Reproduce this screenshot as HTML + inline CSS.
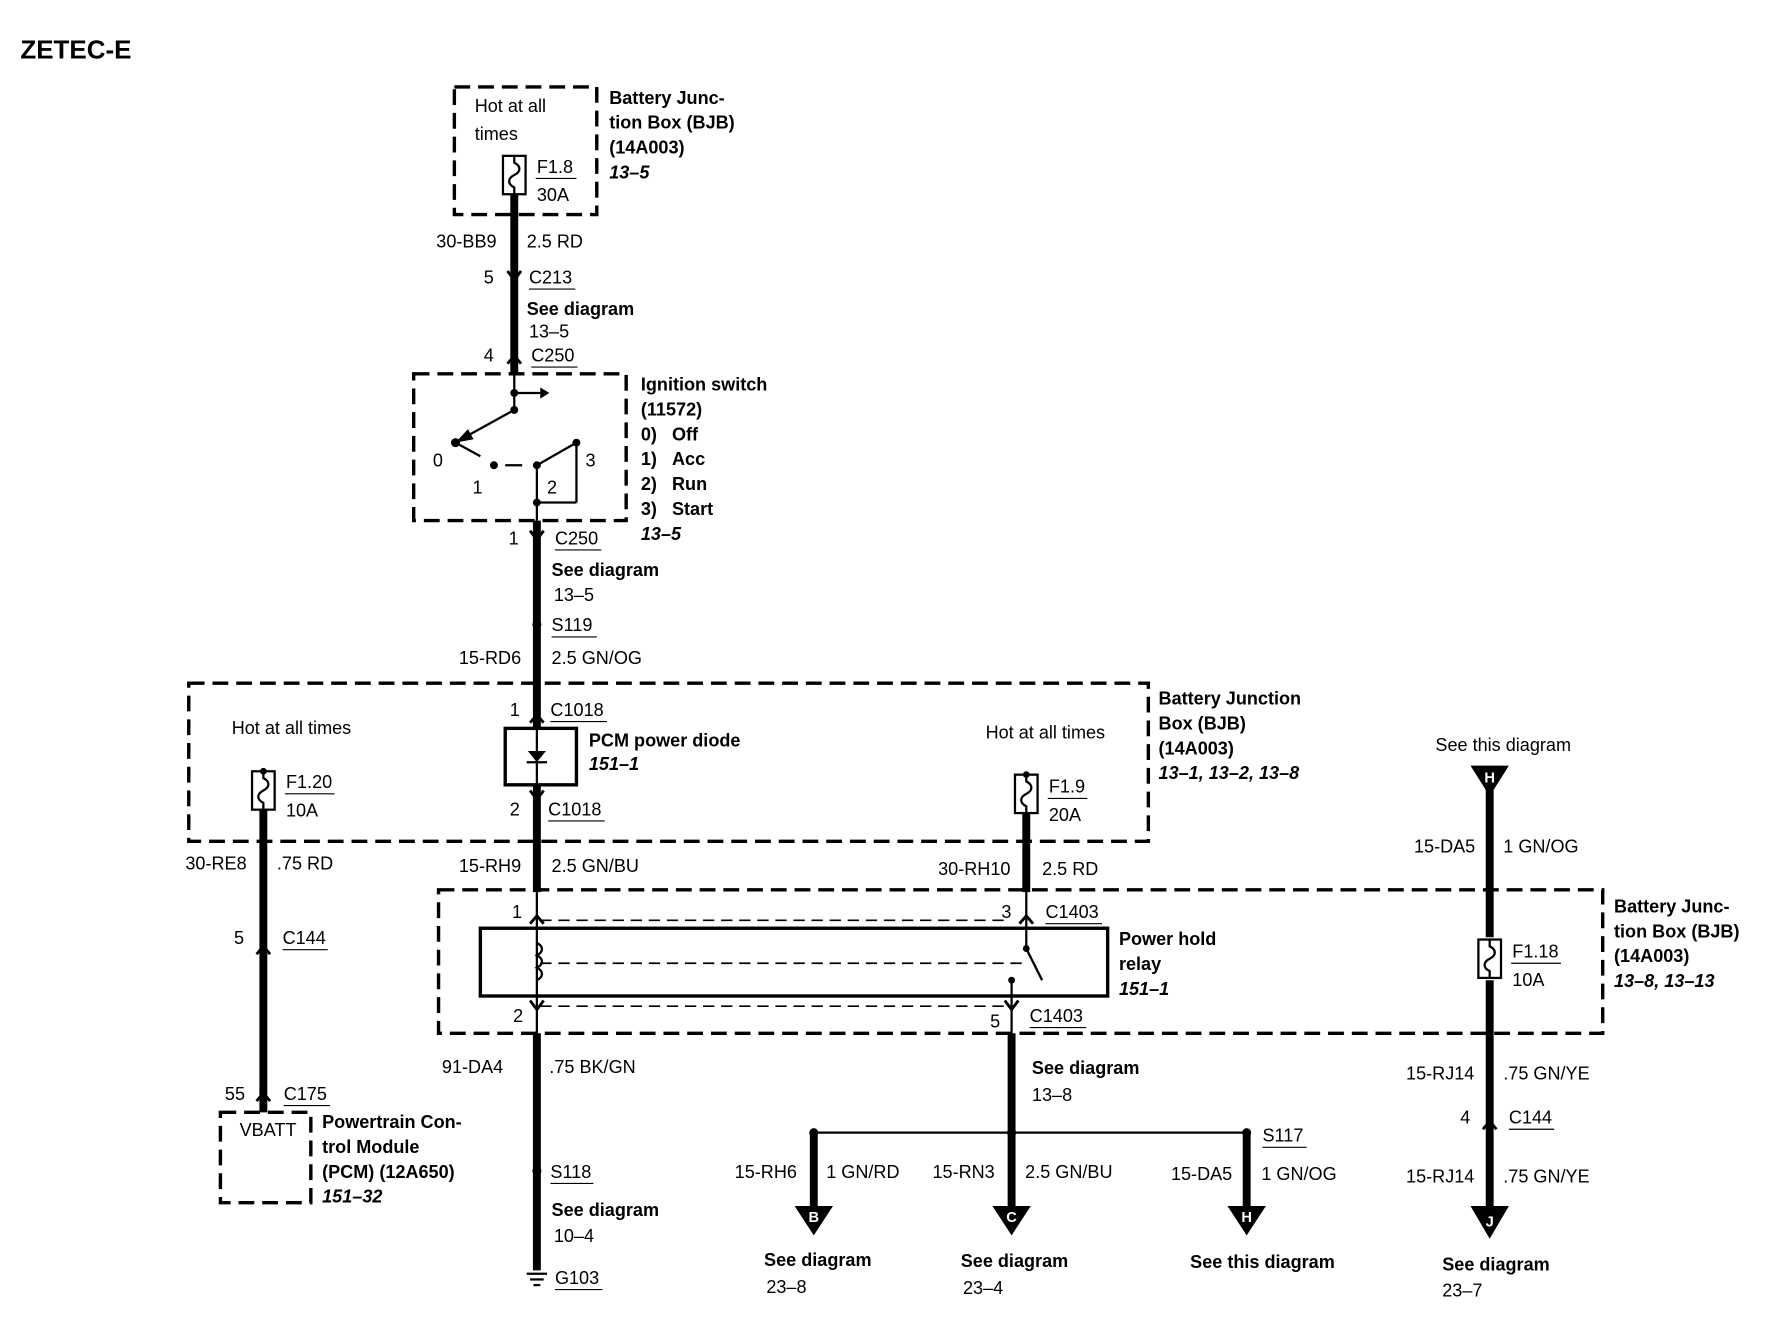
<!DOCTYPE html>
<html><head><meta charset="utf-8"><style>
html,body{margin:0;padding:0;background:#fff}
svg{display:block}
text{font-family:"Liberation Sans",Arial,sans-serif;font-size:16px;fill:#000}
.b{font-weight:bold}
.i{font-weight:bold;font-style:italic}
</style></head><body>
<svg width="1770" height="1328" viewBox="0 0 1566 1176" preserveAspectRatio="none" xmlns="http://www.w3.org/2000/svg">
<defs>
<g id="fuse"><rect x="-10" y="-17" width="20" height="34" fill="#fff" stroke="#000" stroke-width="2"/><path d="M0,-17 v6 c6,3 6,8 0,11 c-6,3 -6,8 0,11 v6" fill="none" stroke="#000" stroke-width="2"/></g>
</defs>
<g stroke="#000" fill="none">
<g stroke-width="3" stroke-dasharray="14,7">
<rect x="402" y="77" width="126" height="113"/>
<rect x="366" y="331" width="188" height="130"/>
<rect x="167" y="605" width="849" height="140"/>
<rect x="388" y="788" width="1030" height="127"/>
<rect x="195" y="985" width="80" height="80"/>
</g>
<g stroke-width="7">
<line x1="455" y1="172" x2="455" y2="331"/>
<line x1="475" y1="461" x2="475" y2="645"/>
<line x1="475" y1="695" x2="475" y2="790"/>
<line x1="475" y1="915" x2="475" y2="1125"/>
<line x1="233" y1="717" x2="233" y2="985"/>
<line x1="908" y1="720" x2="908" y2="790"/>
<line x1="895" y1="915" x2="895" y2="1003"/>
<line x1="720" y1="1003" x2="720" y2="1075"/>
<line x1="895" y1="1003" x2="895" y2="1075"/>
<line x1="1103" y1="1003" x2="1103" y2="1075"/>
<line x1="1318" y1="695" x2="1318" y2="830"/>
<line x1="1318" y1="868" x2="1318" y2="1075"/>
</g>
<g stroke-width="2">
<line x1="720" y1="1003" x2="1103" y2="1003"/>
<line x1="455" y1="331" x2="455" y2="363"/>
<line x1="455" y1="348" x2="478" y2="348"/>
<line x1="455" y1="363" x2="408" y2="389"/>
<line x1="403" y1="392" x2="425" y2="404"/>
<line x1="447" y1="412" x2="462" y2="412"/>
<line x1="475" y1="412" x2="510" y2="392"/>
<line x1="510" y1="392" x2="510" y2="445"/><line x1="475" y1="445" x2="510" y2="445"/>
<line x1="475" y1="412" x2="475" y2="461"/>
<rect x="425" y="822" width="555" height="60" stroke-width="3"/>
<line x1="475" y1="790" x2="475" y2="915"/>
<line x1="908" y1="790" x2="908" y2="840"/>
<line x1="908" y1="840" x2="922" y2="868"/>
<line x1="895" y1="868" x2="895" y2="915"/>
<path d="M475,835 c6,3 6,8 0,11 c6,3 6,8 0,11 c6,3 6,8 0,11" />
</g>
<g stroke-width="1.5" stroke-dasharray="10,6">
<line x1="478" y1="815" x2="890" y2="815"/>
<line x1="478" y1="853" x2="905" y2="853"/>
<line x1="478" y1="891" x2="895" y2="891"/>
</g>
<rect x="447" y="645" width="63" height="50" stroke-width="3" fill="#fff"/>
<line x1="475" y1="645" x2="475" y2="695" stroke-width="2"/>
<line x1="466" y1="675" x2="484" y2="675" stroke-width="2"/>
</g>
<polygon points="467,665 483,665 475,675" fill="#000"/>
<polygon points="478,343 478,353 486,348" fill="#000"/>
<polygon points="403,392 414,380 419,389" fill="#000"/>
<g stroke="#000" stroke-width="2.5" fill="none">
<path d="M449,240 l6,8 l6,-8"/><path d="M449,322 l6,-7 l6,7"/>
<path d="M469,470 l6,8 l6,-8"/><path d="M469,640 l6,-7 l6,7"/>
<path d="M469,700 l6,8 l6,-8"/><path d="M469,818 l6,-7 l6,7"/>
<path d="M469,886 l6,8 l6,-8"/><path d="M902,818 l6,-7 l6,7"/>
<path d="M889,886 l6,8 l6,-8"/><path d="M227,845 l6,-7 l6,7"/>
<path d="M227,975 l6,-7 l6,7"/><path d="M1312,1000 l6,-7 l6,7"/>
</g>
<use href="#fuse" x="455" y="155"/>
<use href="#fuse" x="233" y="700"/>
<use href="#fuse" x="908" y="703"/>
<use href="#fuse" x="1318" y="849"/>
<g fill="#000">
<circle cx="455" cy="348" r="3.5"/><circle cx="455" cy="363" r="3.5"/><circle cx="403" cy="392" r="4"/>
<circle cx="437" cy="412" r="3.5"/><circle cx="475" cy="412" r="3.5"/><circle cx="510" cy="392" r="3.5"/><circle cx="475" cy="445" r="3.5"/>
<circle cx="475" cy="553" r="4"/><circle cx="475" cy="1037" r="4"/>
<circle cx="720" cy="1003" r="4"/><circle cx="895" cy="1003" r="4"/><circle cx="1103" cy="1003" r="4"/>
<circle cx="233" cy="683" r="3"/><circle cx="908" cy="686" r="3"/><circle cx="908" cy="840" r="3"/><circle cx="895" cy="868" r="3"/>
<polygon points="703,1068 737,1068 720,1094"/>
<polygon points="878,1068 912,1068 895,1094"/>
<polygon points="1086,1068 1120,1068 1103,1094"/>
<polygon points="1301,1068 1335,1068 1318,1097"/>
<polygon points="1301,678 1335,678 1318,705"/>
</g>
<g stroke="#000" stroke-width="2"><line x1="466" y1="1128" x2="484" y2="1128"/><line x1="469" y1="1133" x2="481" y2="1133"/><line x1="472" y1="1138" x2="478" y2="1138"/></g>
<g text-anchor="middle">
<text x="720" y="1082" class="b" style="fill:#fff;font-size:13px">B</text>
<text x="895" y="1082" class="b" style="fill:#fff;font-size:13px">C</text>
<text x="1103" y="1082" class="b" style="fill:#fff;font-size:13px">H</text>
<text x="1318" y="1086" class="b" style="fill:#fff;font-size:13px">J</text>
<text x="1318" y="693" class="b" style="fill:#fff;font-size:13px">H</text>
</g>
<text x="18" y="52" class="b" style="font-size:23px">ZETEC-E</text>
<text x="420" y="99">Hot at all</text><text x="420" y="124">times</text>
<text x="475" y="153">F1.8</text><text x="475" y="178">30A</text>
<line x1="474" y1="158" x2="510" y2="158" stroke="#000"/>
<text x="539" y="92" class="b">Battery Junc-</text><text x="539" y="114" class="b">tion Box (BJB)</text><text x="539" y="136" class="b">(14A003)</text><text x="539" y="158" class="i">13–5</text>
<text x="386" y="219">30-BB9</text><text x="466" y="219">2.5 RD</text>
<text x="428" y="251">5</text><text x="468" y="251">C213</text><text x="466" y="279" class="b">See diagram</text><text x="468" y="299">13–5</text>
<text x="428" y="320">4</text><text x="470" y="320">C250</text>
<text x="567" y="346" class="b">Ignition switch</text><text x="567" y="368" class="b">(11572)</text>
<text x="567" y="390" class="b">0)&#160;&#160;&#160;Off</text><text x="567" y="412" class="b">1)&#160;&#160;&#160;Acc</text><text x="567" y="434" class="b">2)&#160;&#160;&#160;Run</text><text x="567" y="456" class="b">3)&#160;&#160;&#160;Start</text><text x="567" y="478" class="i">13–5</text>
<text x="383" y="413">0</text><text x="418" y="437">1</text><text x="484" y="437">2</text><text x="518" y="413">3</text>
<text x="450" y="482">1</text><text x="491" y="482">C250</text><text x="488" y="510" class="b">See diagram</text><text x="490" y="532">13–5</text>
<text x="488" y="559">S119</text>
<text x="406" y="588">15-RD6</text><text x="488" y="588">2.5 GN/OG</text>
<text x="205" y="650">Hot at all times</text>
<text x="451" y="634">1</text><text x="487" y="634">C1018</text>
<text x="521" y="661" class="b">PCM power diode</text><text x="521" y="682" class="i">151–1</text>
<text x="451" y="722">2</text><text x="485" y="722">C1018</text>
<text x="253" y="698">F1.20</text><text x="253" y="723">10A</text>
<text x="872" y="654">Hot at all times</text>
<text x="928" y="702">F1.9</text><text x="928" y="727">20A</text>
<text x="1025" y="624" class="b">Battery Junction</text><text x="1025" y="646" class="b">Box (BJB)</text><text x="1025" y="668" class="b">(14A003)</text><text x="1025" y="690" class="i">13–1, 13–2, 13–8</text>
<text x="1270" y="665">See this diagram</text>
<text x="1251" y="755">15-DA5</text><text x="1330" y="755">1 GN/OG</text>
<text x="164" y="770">30-RE8</text><text x="245" y="770">.75 RD</text>
<text x="406" y="772">15-RH9</text><text x="488" y="772">2.5 GN/BU</text>
<text x="830" y="775">30-RH10</text><text x="922" y="775">2.5 RD</text>
<text x="453" y="813">1</text><text x="886" y="813">3</text><text x="925" y="813">C1403</text>
<text x="990" y="837" class="b">Power hold</text><text x="990" y="859" class="b">relay</text><text x="990" y="881" class="i">151–1</text>
<text x="1428" y="808" class="b">Battery Junc-</text><text x="1428" y="830" class="b">tion Box (BJB)</text><text x="1428" y="852" class="b">(14A003)</text><text x="1428" y="874" class="i">13–8, 13–13</text>
<text x="1338" y="848">F1.18</text><text x="1338" y="873">10A</text>
<text x="207" y="836">5</text><text x="250" y="836">C144</text>
<text x="454" y="905">2</text><text x="876" y="910">5</text><text x="911" y="905">C1403</text>
<text x="391" y="950">91-DA4</text><text x="486" y="950">.75 BK/GN</text>
<text x="913" y="951" class="b">See diagram</text><text x="913" y="975">13–8</text>
<text x="1244" y="956">15-RJ14</text><text x="1330" y="956">.75 GN/YE</text>
<text x="199" y="974">55</text><text x="251" y="974">C175</text>
<text x="212" y="1006">VBATT</text>
<text x="285" y="999" class="b">Powertrain Con-</text><text x="285" y="1021" class="b">trol Module</text><text x="285" y="1043" class="b">(PCM) (12A650)</text><text x="285" y="1065" class="i">151–32</text>
<text x="1292" y="995">4</text><text x="1335" y="995">C144</text>
<text x="1117" y="1011">S117</text>
<text x="487" y="1043">S118</text>
<text x="650" y="1043">15-RH6</text><text x="731" y="1043">1 GN/RD</text>
<text x="825" y="1043">15-RN3</text><text x="907" y="1043">2.5 GN/BU</text>
<text x="1036" y="1045">15-DA5</text><text x="1116" y="1045">1 GN/OG</text>
<text x="1244" y="1047">15-RJ14</text><text x="1330" y="1047">.75 GN/YE</text>
<text x="488" y="1077" class="b">See diagram</text><text x="490" y="1100">10–4</text>
<text x="676" y="1121" class="b">See diagram</text><text x="678" y="1145">23–8</text>
<text x="850" y="1122" class="b">See diagram</text><text x="852" y="1146">23–4</text>
<text x="1053" y="1123" class="b">See this diagram</text>
<text x="1276" y="1125" class="b">See diagram</text><text x="1276" y="1148">23–7</text>
<text x="491" y="1137">G103</text>
<g stroke="#000" stroke-width="1">
<line x1="252" y1="703" x2="296" y2="703"/><line x1="927" y1="707" x2="962" y2="707"/><line x1="1337" y1="853" x2="1381" y2="853"/>
<line x1="468" y1="256" x2="509" y2="256"/><line x1="470" y1="325" x2="511" y2="325"/><line x1="491" y1="487" x2="532" y2="487"/>
<line x1="488" y1="564" x2="528" y2="564"/><line x1="487" y1="639" x2="537" y2="639"/><line x1="485" y1="727" x2="535" y2="727"/>
<line x1="925" y1="818" x2="975" y2="818"/><line x1="911" y1="910" x2="961" y2="910"/><line x1="250" y1="841" x2="290" y2="841"/>
<line x1="251" y1="979" x2="292" y2="979"/><line x1="1335" y1="1000" x2="1375" y2="1000"/><line x1="1117" y1="1016" x2="1156" y2="1016"/>
<line x1="487" y1="1048" x2="525" y2="1048"/><line x1="491" y1="1142" x2="533" y2="1142"/>
</g>
</svg>
</body></html>
